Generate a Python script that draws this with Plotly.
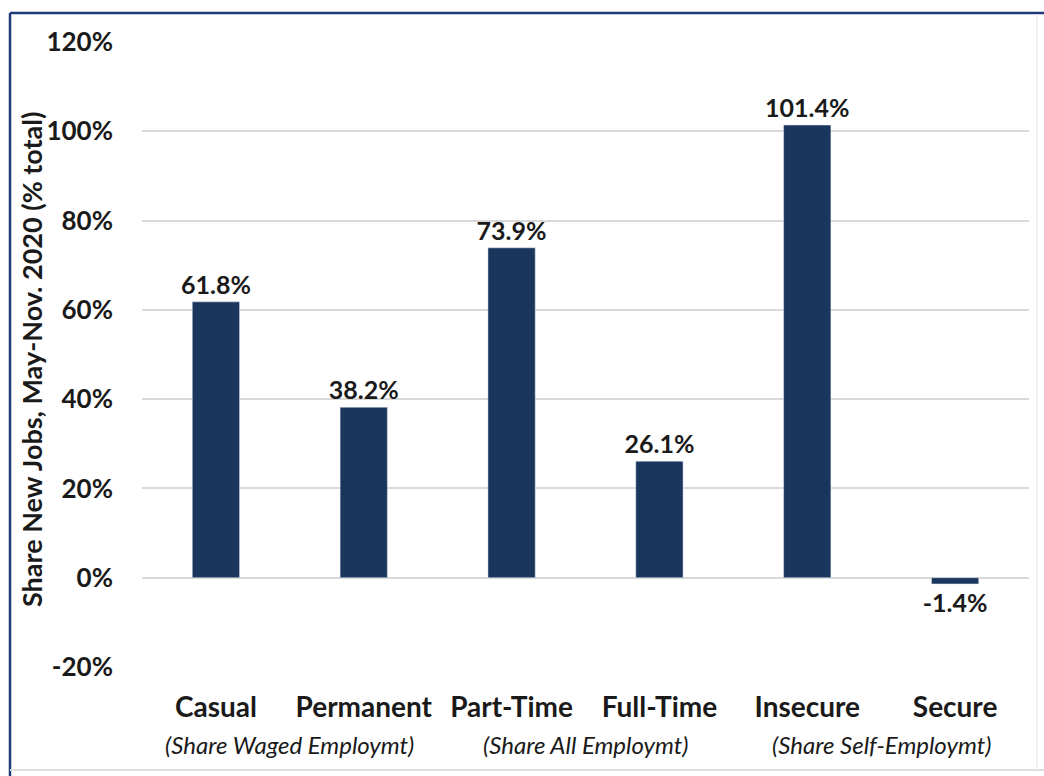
import plotly.graph_objects as go

categories = ["Casual", "Permanent", "Part-Time", "Full-Time", "Insecure", "Secure"]
values = [61.8, 38.2, 73.9, 26.1, 101.4, -1.4]
value_labels = ["61.8%", "38.2%", "73.9%", "26.1%", "101.4%", "-1.4%"]
group_labels = ["(Share Waged Employmt)", "(Share All Employmt)", "(Share Self-Employmt)"]
group_positions = [0.5, 2.5, 4.5]
tick_vals = [-20, 0, 20, 40, 60, 80, 100, 120]
tick_text = ["-20%", "0%", "20%", "40%", "60%", "80%", "100%", "120%"]
y_title = "Share New Jobs, May-Nov. 2020 (% total)"

FONT = "Lato"
BAR = "#1b365d"
FRAME = "#1f3a78"
TXT = "#1a1a1a"

W, H = 1044, 776
L, R, T, B = 142, 15, 42, 109
pw, ph = W - L - R, H - T - B
def px(x): return (x - L) / pw
def py(y): return (H - B - y) / ph

fig = go.Figure()
fig.add_trace(go.Bar(
    x=categories, y=values, marker_color=BAR,
    text=value_labels, textposition="outside", cliponaxis=False, constraintext="none",
    textfont=dict(family=FONT, size=25, color=TXT, weight="bold"),
))

for lbl, pos in zip(group_labels, group_positions):
    fig.add_annotation(x=pos, xref="x", y=-0.1232, yref="paper", text="<i>" + lbl + "</i>",
                       showarrow=False, font=dict(family=FONT, size=24, color=TXT),
                       yanchor="middle")

fig.add_annotation(x=px(32), xref="paper", y=py(360), yref="paper", text=y_title,
                   textangle=-90, showarrow=False, xanchor="center", yanchor="middle",
                   font=dict(family=FONT, size=27, color=TXT, weight="bold"))

shapes = [
    dict(type="line", xref="paper", yref="paper", x0=px(10), x1=px(1044), y0=py(13), y1=py(13),
         line=dict(color=FRAME, width=2.5)),
    dict(type="line", xref="paper", yref="paper", x0=px(10), x1=px(10), y0=py(13), y1=py(776),
         line=dict(color=FRAME, width=2.5)),
    dict(type="line", xref="paper", yref="paper", x0=px(10), x1=px(1044), y0=py(770), y1=py(770),
         line=dict(color="#dddddd", width=2)),
    dict(type="line", xref="paper", yref="paper", x0=px(1037), x1=px(1037), y0=py(14), y1=py(770),
         line=dict(color="#eeeeee", width=1.5)),
]

fig.update_layout(
    width=W, height=H,
    margin=dict(l=L, r=R, t=T, b=B),
    paper_bgcolor="white", plot_bgcolor="white",
    bargap=0.68, showlegend=False, shapes=shapes,
    font=dict(family=FONT, color=TXT),
    xaxis=dict(showline=False, ticks="", tickfont=dict(family=FONT, size=28, weight="bold", color=TXT),
               showgrid=False, zeroline=False, ticklabelstandoff=21),
    yaxis=dict(range=[-20, 120], tickvals=tick_vals, ticktext=tick_text,
               tickfont=dict(family=FONT, size=26, weight="bold", color=TXT),
               showgrid=True, gridcolor="#d9d9d9", gridwidth=1.5, zeroline=True,
               zerolinecolor="#d9d9d9", zerolinewidth=1.5, ticks="", ticklabelstandoff=28),
)

fig.write_html("out.html")
